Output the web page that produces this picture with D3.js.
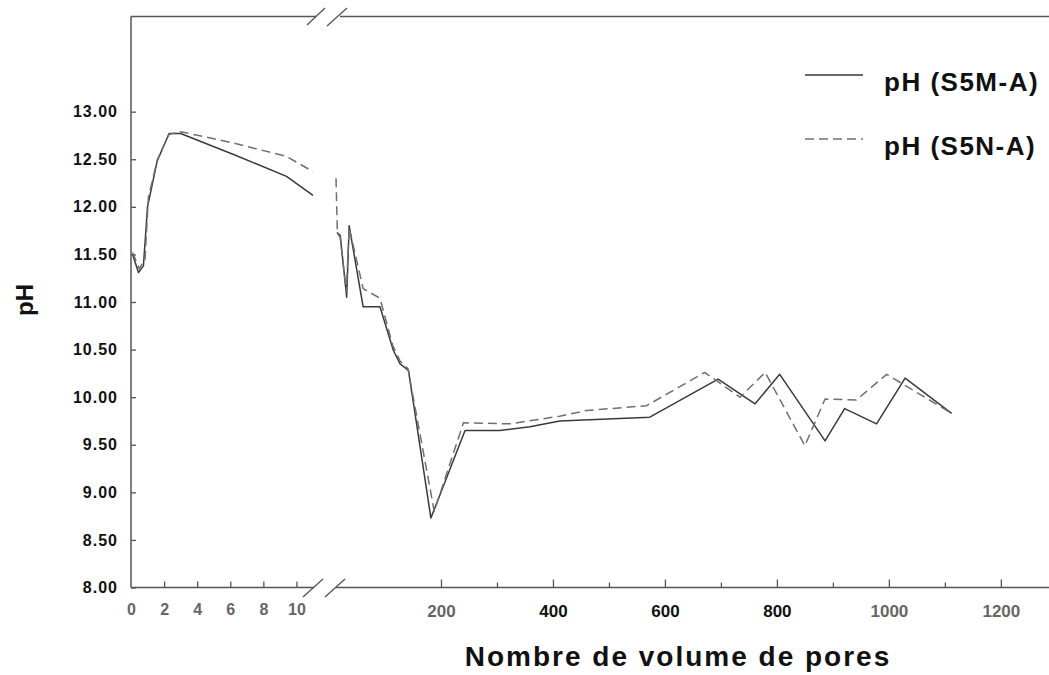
<!DOCTYPE html>
<html>
<head>
<meta charset="utf-8">
<script src="https://cdn.jsdelivr.net/npm/d3@7"></script>
<style>
  body { margin: 0; background: #fff; }
  svg { display: block; font-family: "Liberation Sans", Arial, sans-serif; }
</style>
</head>
<body>
<div id="chart"></div>
<script>
// pore volumes, first (expanded) segment 0..11
var xEarlyM = [0.1, 0.45, 0.75, 1.0, 1.58, 2.3, 3.0, 6.2, 9.4, 11.0];
var phEarlyM = [11.5, 11.31, 11.38, 12.0, 12.48, 12.77, 12.77, 12.55, 12.32, 12.12];
var xEarlyN = [0.1, 0.5, 0.85, 1.05, 1.6, 2.3, 3.0, 6.2, 9.4, 11.0];
var phEarlyN = [11.52, 11.35, 11.45, 12.1, 12.5, 12.76, 12.79, 12.67, 12.53, 12.37];

// second segment (after the break)
var xLateM = [14, 20, 31.6, 36, 61, 91, 115, 127, 142, 182, 243, 305, 359, 412, 573, 695, 761, 805, 886, 921, 978, 1029, 1112];
var phLateM = [11.73, 11.7, 11.05, 11.8, 10.95, 10.95, 10.49, 10.35, 10.28, 8.73, 9.65, 9.65, 9.69, 9.75, 9.79, 10.19, 9.93, 10.24, 9.54, 9.88, 9.72, 10.2, 9.83];
var xLateN = [12.5, 15, 20, 31, 36, 61, 91, 114, 127, 141, 188, 240, 323, 412, 460, 567, 671, 734, 779, 850, 886, 942, 996, 1112];
var phLateN = [12.3, 11.72, 11.68, 11.1, 11.78, 11.14, 11.04, 10.54, 10.38, 10.3, 8.8, 9.73, 9.72, 9.8, 9.86, 9.91, 10.26, 10.0, 10.26, 9.49, 9.98, 9.97, 10.24, 9.83];

var yTicks = [8, 8.5, 9, 9.5, 10, 10.5, 11, 11.5, 12, 12.5, 13];
var xEarlyTicks = [0, 2, 4, 6, 8, 10];
var xLateTicks = [200, 300, 400, 500, 600, 700, 800, 900, 1000, 1100, 1200];
var seriesNames = ["pH (S5M-A)", "pH (S5N-A)"];

var W = 1049, H = 675;
var x0 = 131, yBottom = 587.5, yTop = 16.5;
var breakL = 313, breakR = 336;

var svg = d3.select("#chart").append("svg")
  .attr("width", W).attr("height", H);

var y = d3.scaleLinear().domain([8, 14]).range([yBottom, yTop]);
var xL = d3.scaleLinear().domain([0, 11]).range([x0, breakL]);
var xR = d3.scaleLinear().domain([0, 1286]).range([329, W]);

var axisCol = "#555";

// frame lines with break gaps
function seg(x1, y1, x2, y2, w) {
  svg.append("line").attr("x1", x1).attr("y1", y1).attr("x2", x2).attr("y2", y2)
    .attr("stroke", axisCol).attr("stroke-width", w || 1.5);
}
seg(x0, yBottom, breakL + 1, yBottom);
seg(breakR, yBottom, W, yBottom);
seg(x0, yTop, breakL + 3, yTop);
seg(breakR + 4, yTop, W, yTop);
seg(x0, yTop, x0, yBottom);

// break slashes
seg(303, 597, 323, 579, 1.3);
seg(325, 597, 345, 579, 1.3);
seg(307, 25, 325, 8, 1.3);
seg(327, 26, 347, 8, 1.3);

// y axis
var yAxis = svg.append("g")
  .attr("transform", "translate(" + x0 + ",0)")
  .call(d3.axisLeft(y).tickValues(yTicks).tickSize(-5).tickPadding(13)
    .tickFormat(function(d) { return d3.format(".2f")(d); }));
yAxis.select(".domain").remove();
yAxis.selectAll("line").attr("stroke", axisCol).attr("stroke-width", 1.3);
yAxis.selectAll("text")
  .attr("font-family", "Liberation Sans, Arial, sans-serif")
  .attr("font-size", 16).attr("font-weight", "bold")
  .attr("letter-spacing", 1).attr("fill", "#111");

// x axis, first segment
var xAxisL = svg.append("g")
  .attr("transform", "translate(0," + yBottom + ")")
  .call(d3.axisBottom(xL).tickValues(xEarlyTicks).tickSize(-6).tickPadding(16));
xAxisL.select(".domain").remove();
xAxisL.selectAll("line").attr("stroke", axisCol).attr("stroke-width", 1.3)
  .attr("opacity", function(d) { return d === 0 ? 0 : 1; });
xAxisL.selectAll("text")
  .attr("font-family", "Liberation Sans, Arial, sans-serif")
  .attr("font-size", 16).attr("font-weight", "bold").attr("fill", "#666");

// x axis, second segment
var xAxisR = svg.append("g")
  .attr("transform", "translate(0," + yBottom + ")")
  .call(d3.axisBottom(xR).tickValues(xLateTicks).tickSize(-8).tickPadding(17)
    .tickFormat(function(d) { return d % 200 === 0 ? d : ""; }));
xAxisR.select(".domain").remove();
xAxisR.selectAll("line").attr("stroke", axisCol).attr("stroke-width", 1.3)
  .attr("y2", function(d) { return d % 200 === 0 ? -8 : -5; });
xAxisR.selectAll("text")
  .attr("font-family", "Liberation Sans, Arial, sans-serif")
  .attr("font-size", 17).attr("font-weight", "bold")
  .attr("fill", function(d) { return (d >= 400 && d <= 800) ? "#111" : "#666"; });

// lines
function pts(xs, ys) { return xs.map(function(v, i) { return [v, ys[i]]; }); }

var lineL = d3.line().x(function(d) { return xL(d[0]); }).y(function(d) { return y(d[1]); });
var lineR = d3.line().x(function(d) { return xR(d[0]); }).y(function(d) { return y(d[1]); });

var styles = [
  { stroke: "#3a3a3a", dash: null, width: 1.5 },
  { stroke: "#707070", dash: "9,5", width: 1.5 }
];

[[xEarlyM, phEarlyM, xLateM, phLateM], [xEarlyN, phEarlyN, xLateN, phLateN]].forEach(function(s, i) {
  var st = styles[i];
  svg.append("path").datum(pts(s[0], s[1]))
    .attr("fill", "none").attr("stroke", st.stroke).attr("stroke-width", st.width)
    .attr("stroke-dasharray", st.dash).attr("stroke-linejoin", "round")
    .attr("d", lineL);
  svg.append("path").datum(pts(s[2], s[3]))
    .attr("fill", "none").attr("stroke", st.stroke).attr("stroke-width", st.width)
    .attr("stroke-dasharray", st.dash).attr("stroke-linejoin", "round")
    .attr("d", lineR);
});

// legend
var legend = svg.append("g");
seriesNames.forEach(function(name, i) {
  var ly = 75 + i * 64;
  legend.append("line").attr("x1", 805).attr("x2", 863).attr("y1", ly).attr("y2", ly)
    .attr("stroke", styles[i].stroke).attr("stroke-width", i === 0 ? 1.5 : 1.3)
    .attr("stroke-dasharray", styles[i].dash);
  legend.append("text").attr("x", 884).attr("y", ly + 16)
    .attr("font-size", 26).attr("font-weight", "bold").attr("letter-spacing", 1.5)
    .attr("fill", "#111").text(name);
});

// axis titles
svg.append("text")
  .attr("x", 678).attr("y", 666)
  .attr("text-anchor", "middle")
  .attr("font-size", 28).attr("font-weight", "bold").attr("letter-spacing", 2)
  .attr("fill", "#111")
  .text("Nombre de volume de pores");

svg.append("text")
  .attr("transform", "translate(33,300) rotate(-90)")
  .attr("text-anchor", "middle")
  .attr("font-size", 24).attr("font-weight", "bold")
  .attr("fill", "#111")
  .text("pH");
</script>
</body>
</html>
